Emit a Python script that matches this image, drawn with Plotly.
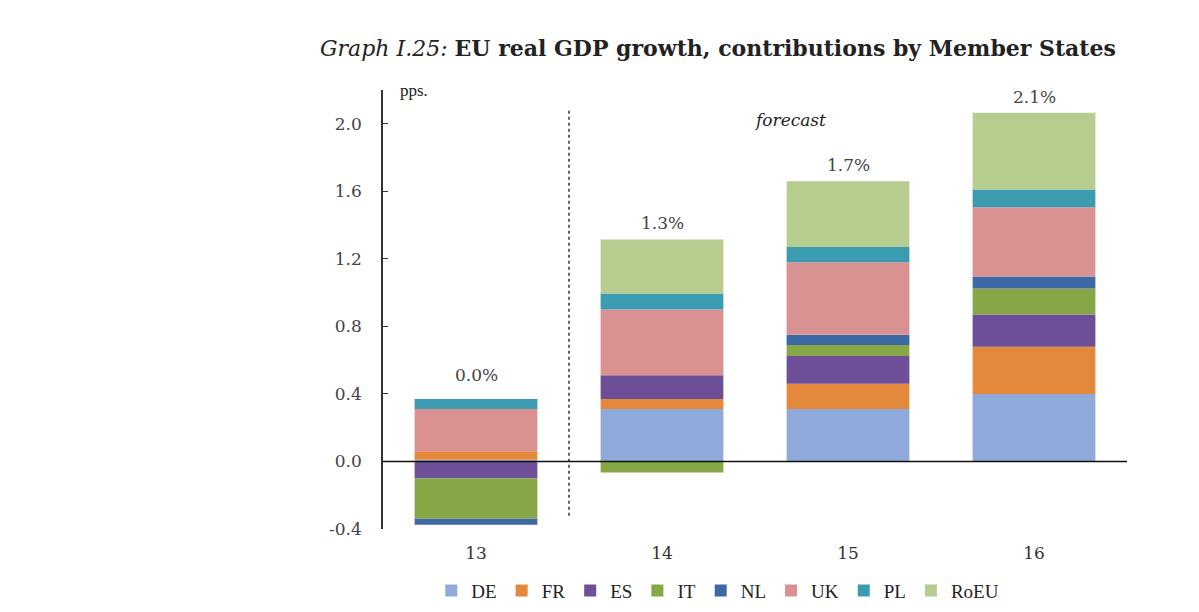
import plotly.graph_objects as go

years = ["13", "14", "15", "16"]
series_names = ["DE", "FR", "ES", "IT", "NL", "UK", "PL", "RoEU"]
DE = [0.01, 0.31, 0.31, 0.40]
FR = [0.05, 0.06, 0.15, 0.28]
ES = [-0.10, 0.14, 0.165, 0.19]
IT = [-0.24, -0.065, 0.065, 0.155]
NL = [-0.035, 0.0, 0.06, 0.07]
UK = [0.25, 0.39, 0.43, 0.41]
PL = [0.06, 0.095, 0.09, 0.105]
RoEU = [0.0, 0.32, 0.39, 0.455]
growth_labels = ["0.0%", "1.3%", "1.7%", "2.1%"]
y_ticks = [-0.4, 0.0, 0.4, 0.8, 1.2, 1.6, 2.0]

colors = ["#8FAADA", "#E4893C", "#6C4F96", "#86A746", "#3F69A5", "#D99291", "#3B9BB1", "#B6CD8F"]
values = [DE, FR, ES, IT, NL, UK, PL, RoEU]

serif = "Liberation Serif, Times New Roman, serif"
wide = "DejaVu Serif, serif"

fig = go.Figure()
for name, vals, col in zip(series_names, values, colors):
    fig.add_trace(go.Bar(x=years, y=vals, name=name, marker=dict(color=col, line=dict(width=0))))

# total labels above positive stacks (x given as category index)
for i, yr in enumerate(years):
    pos_top = sum(v[i] for v in values if v[i] > 0)
    fig.add_annotation(x=i, y=pos_top, text=growth_labels[i], showarrow=False,
                       yanchor="bottom", yshift=4 if i else 12,
                       font=dict(family=wide, size=17, color="#444444"))

# forecast divider and text
fig.add_shape(type="line", xref="x", yref="paper", x0=0.5, x1=0.5, y0=0.03, y1=0.955,
              line=dict(color="#333333", width=1.5, dash="dot"))
fig.add_annotation(x=1.69, y=2.0, text="<i>forecast</i>", showarrow=False, yshift=4,
                   font=dict(family=wide, size=17, color="#222222"))
# zero line
fig.add_shape(type="line", xref="paper", yref="y", x0=0, x1=1, y0=0, y1=0,
              line=dict(color="#111111", width=1.5))
fig.add_annotation(xref="paper", yref="paper", x=0.02, y=1.0, text="pps.", showarrow=False,
                   xanchor="left", yanchor="middle",
                   font=dict(family=serif, size=17, color="#222222"))
fig.add_annotation(xref="paper", yref="paper", x=0.45, y=1.0, yshift=42,
                   text="<i>Graph I.25:</i> <b>EU real GDP growth, contributions by Member States</b>",
                   showarrow=False, xanchor="center", yanchor="middle",
                   font=dict(family=wide, size=22, color="#222222"))

fig.update_layout(
    barmode="relative",
    bargap=0.34,
    width=1199, height=612,
    margin=dict(l=383, r=72, t=90, b=83, autoexpand=False),
    paper_bgcolor="white", plot_bgcolor="white",
    font=dict(family=serif, size=17, color="#333333"),
    showlegend=True,
    legend=dict(orientation="h", x=0.45, xanchor="center", y=-0.097, yanchor="top",
                font=dict(family=serif, size=19, color="#222222"),
                itemwidth=30, tracegroupgap=0),
    xaxis=dict(type="category", range=[-0.5, 3.5], showline=False, ticks="", showgrid=False,
               ticklabelstandoff=12,
               tickfont=dict(family=wide, size=17, color="#333333")),
    yaxis=dict(range=[-0.4, 2.2], tickvals=y_ticks, ticktext=[f"{v:.1f}" for v in y_ticks],
               showgrid=False, zeroline=False, showline=True, linecolor="#333333", linewidth=1.5,
               ticks="inside", ticklen=5, tickcolor="#333333", ticklabelstandoff=16,
               tickfont=dict(family=wide, size=17, color="#444444")),
)

fig.write_html("out.html")
